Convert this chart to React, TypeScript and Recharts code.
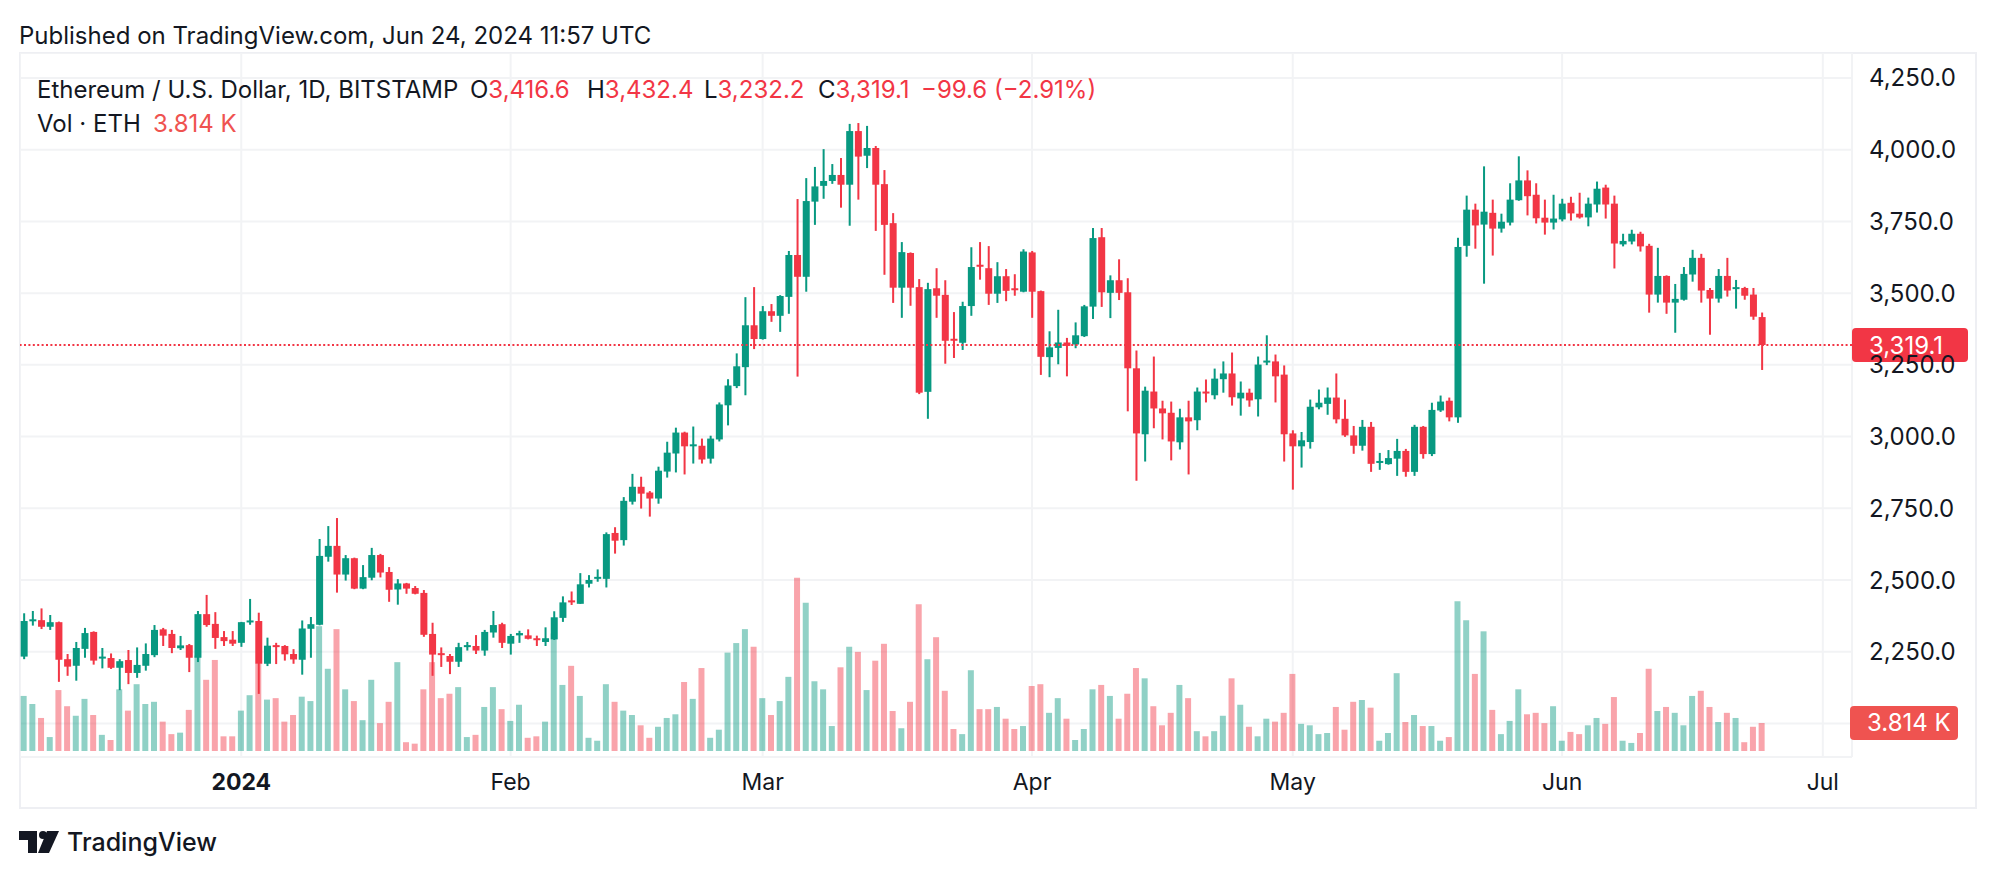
import React from "react";
import {
  ComposedChart,
  Bar,
  Cell,
  XAxis,
  YAxis,
  CartesianGrid,
  ReferenceLine,
} from "recharts";

// ETH/USD daily candles, BITSTAMP, 2023-12-07 .. 2024-06-24 (one entry per day)
const OPEN = [
  // Dec
  2233, 2358, 2360, 2337, 2353, 2224, 2201, 2260, 2319, 2226, 2228, 2194, 2221, 2176, 2201, 2238, 2328, 2312, 2262, 2273, 2229, 2381, 2347, 2301, 2292,
  // Jan
  2281, 2353, 2357, 2208, 2273, 2270, 2242, 2222, 2330, 2344, 2581, 2619, 2519, 2576, 2470, 2508, 2587, 2528, 2467, 2488, 2472, 2455, 2312, 2245, 2235, 2215, 2266, 2270, 2254, 2317, 2346,
  // Feb
  2278, 2307, 2307, 2297, 2284, 2293, 2368, 2429, 2417, 2487, 2505, 2504, 2664, 2639, 2773, 2825, 2805, 2784, 2878, 2941, 3014, 2967, 2968, 2923, 2990, 3109, 3176, 3242, 3388,
  // Mar
  3340, 3437, 3421, 3487, 3633, 3557, 3819, 3874, 3891, 3912, 3878, 4065, 3979, 4006, 3880, 3744, 3519, 3640, 3521, 3156, 3517, 3494, 3341, 3327, 3455, 3599, 3587, 3498, 3559, 3517, 3505,
  // Apr
  3642, 3507, 3277, 3309, 3328, 3321, 3350, 3453, 3695, 3501, 3545, 3503, 3238, 3008, 3157, 3098, 3083, 2980, 3067, 3057, 3157, 3144, 3200, 3220, 3133, 3153, 3130, 3259, 3262, 3216,
  // May
  3011, 2966, 2981, 3102, 3114, 3136, 3062, 3004, 2968, 3034, 2908, 2904, 2923, 2950, 2877, 3034, 2939, 3091, 3125, 3067, 3665, 3791, 3739, 3780, 3725, 3746, 3824, 3893, 3843, 3763, 3746,
  // Jun
  3757, 3815, 3777, 3764, 3809, 3868, 3812, 3670, 3680, 3707, 3665, 3495, 3560, 3467, 3477, 3565, 3623, 3511, 3481, 3560, 3516, 3518, 3495, 3416.6,
];

const HIGH = [
  2384, 2392, 2401, 2378, 2355, 2242, 2284, 2333, 2321, 2263, 2244, 2224, 2256, 2265, 2279, 2343, 2333, 2326, 2305, 2277, 2392, 2448, 2388, 2322, 2322,
  2354, 2434, 2386, 2299, 2281, 2273, 2259, 2359, 2371, 2643, 2688, 2716, 2587, 2578, 2552, 2612, 2591, 2545, 2503, 2490, 2479, 2465, 2351, 2265, 2242, 2281, 2284, 2308, 2326, 2392, 2351,
  2312, 2323, 2328, 2306, 2335, 2391, 2443, 2460, 2524, 2517, 2537, 2666, 2684, 2789, 2870, 2860, 2810, 2895, 2982, 3031, 3017, 3035, 2993, 3003, 3119, 3200, 3290, 3486, 3521,
  3455, 3462, 3493, 3647, 3828, 3901, 3940, 4002, 3950, 3971, 4090, 4093, 4083, 4013, 3929, 3779, 3678, 3642, 3549, 3536, 3587, 3545, 3434, 3470, 3660, 3678, 3664, 3608, 3584, 3566, 3653,
  3647, 3509, 3367, 3442, 3344, 3398, 3459, 3727, 3727, 3562, 3618, 3552, 3300, 3174, 3279, 3125, 3122, 3097, 3125, 3171, 3199, 3237, 3262, 3293, 3192, 3167, 3279, 3353, 3286, 3248,
  3022, 3016, 3129, 3164, 3171, 3220, 3129, 3037, 3058, 3051, 2943, 2953, 2992, 2957, 3041, 3037, 3118, 3143, 3136, 3693, 3840, 3812, 3942, 3826, 3777, 3883, 3977, 3928, 3883, 3826, 3843,
  3829, 3836, 3850, 3833, 3889, 3878, 3840, 3707, 3721, 3714, 3672, 3658, 3562, 3532, 3591, 3651, 3637, 3518, 3584, 3623, 3546, 3522, 3518, 3432.4,
];

const LOW = [
  2224, 2341, 2329, 2326, 2145, 2166, 2149, 2229, 2205, 2192, 2190, 2116, 2137, 2159, 2184, 2231, 2270, 2245, 2256, 2179, 2214, 2337, 2260, 2270, 2270,
  2267, 2344, 2103, 2200, 2207, 2219, 2208, 2170, 2229, 2342, 2564, 2456, 2498, 2468, 2468, 2499, 2509, 2424, 2414, 2452, 2450, 2302, 2166, 2197, 2172, 2197, 2254, 2242, 2236, 2299, 2263,
  2240, 2281, 2293, 2270, 2270, 2291, 2354, 2413, 2417, 2474, 2494, 2474, 2592, 2620, 2763, 2749, 2721, 2766, 2857, 2875, 2868, 2906, 2906, 2906, 2983, 3039, 3169, 3144, 3305,
  3338, 3400, 3365, 3428, 3209, 3505, 3738, 3829, 3881, 3798, 3735, 3826, 3936, 3717, 3564, 3466, 3414, 3456, 3148, 3062, 3414, 3254, 3274, 3302, 3421, 3547, 3459, 3466, 3472, 3491, 3503,
  3414, 3215, 3207, 3252, 3210, 3308, 3347, 3410, 3452, 3413, 3476, 3088, 2846, 2913, 3029, 2990, 2917, 2955, 2868, 3022, 3119, 3130, 3153, 3108, 3073, 3104, 3070, 3249, 3119, 2913,
  2815, 2892, 2958, 3095, 3076, 3046, 2999, 2940, 2951, 2877, 2884, 2902, 2863, 2860, 2863, 2923, 2932, 3086, 3053, 3048, 3627, 3655, 3533, 3631, 3711, 3736, 3822, 3771, 3743, 3704, 3722,
  3750, 3753, 3760, 3733, 3781, 3760, 3586, 3663, 3670, 3645, 3432, 3467, 3428, 3362, 3474, 3540, 3467, 3355, 3467, 3488, 3446, 3477, 3407, 3232.2,
];

const CLOSE = [
  2357, 2363, 2337, 2353, 2222, 2198, 2263, 2315, 2219, 2233, 2194, 2217, 2176, 2204, 2242, 2326, 2306, 2263, 2272, 2229, 2381, 2343, 2298, 2287, 2278,
  2353, 2359, 2208, 2271, 2267, 2241, 2223, 2331, 2346, 2584, 2619, 2519, 2576, 2470, 2510, 2587, 2526, 2466, 2488, 2470, 2452, 2309, 2240, 2240, 2215, 2266, 2273, 2254, 2319, 2343, 2281,
  2305, 2315, 2295, 2291, 2297, 2370, 2422, 2422, 2485, 2500, 2511, 2660, 2637, 2776, 2825, 2801, 2784, 2881, 2944, 3014, 2966, 2973, 2920, 2993, 3112, 3178, 3245, 3388, 3340,
  3437, 3421, 3490, 3633, 3557, 3821, 3872, 3891, 3912, 3878, 4065, 3976, 4006, 3878, 3738, 3519, 3643, 3519, 3153, 3514, 3491, 3334, 3334, 3455, 3591, 3592, 3498, 3559, 3508, 3512, 3645,
  3505, 3278, 3311, 3328, 3316, 3353, 3454, 3692, 3503, 3545, 3501, 3238, 3011, 3160, 3098, 3081, 2983, 3067, 3053, 3157, 3151, 3202, 3220, 3137, 3153, 3126, 3251, 3265, 3210, 3008,
  2966, 2987, 3104, 3118, 3136, 3060, 3004, 2968, 3034, 2905, 2915, 2925, 2950, 2877, 3034, 2939, 3093, 3122, 3067, 3661, 3791, 3736, 3784, 3725, 3749, 3826, 3893, 3838, 3761, 3746, 3760,
  3812, 3778, 3764, 3812, 3864, 3809, 3673, 3682, 3707, 3663, 3495, 3560, 3467, 3480, 3567, 3623, 3509, 3481, 3560, 3509, 3521, 3491, 3418, 3319.1,
];

// volume in thousands of ETH
const VOLUME = [
  7.5, 6.4, 4.5, 1.9, 8.3, 6.1, 4.8, 7.1, 4.9, 2.2, 1.5, 8.4, 5.5, 9.1, 6.4, 6.7, 4.0, 2.3, 2.5, 5.6, 13.0, 9.7, 12.4, 2.0, 2.0,
  5.5, 7.6, 11.9, 7.0, 7.2, 4.0, 4.9, 7.4, 6.8, 17.0, 11.2, 16.6, 8.4, 6.8, 4.2, 9.7, 3.8, 6.7, 12.1, 1.2, 1.0, 8.4, 12.1, 7.2, 7.8, 8.7, 1.9, 2.2, 6.0, 8.7, 5.7,
  4.1, 6.3, 1.8, 2.0, 4.0, 16.0, 9.0, 11.6, 7.5, 1.8, 1.4, 9.1, 6.7, 5.5, 4.9, 3.5, 1.8, 3.3, 4.5, 5.0, 9.4, 7.1, 11.3, 1.8, 2.9, 13.4, 14.7, 16.6, 14.2,
  7.2, 4.9, 6.8, 10.1, 23.6, 20.2, 9.5, 8.4, 3.4, 11.4, 14.2, 13.5, 8.3, 12.3, 14.6, 5.45, 3.1, 6.7, 20.0, 12.5, 15.5, 8.2, 3.0, 2.3, 11.0, 5.7, 5.7, 6.0, 4.4, 3.0, 3.4,
  8.85, 9.1, 5.2, 7.2, 4.4, 1.5, 3.0, 8.4, 9.0, 7.5, 4.4, 7.8, 11.3, 9.9, 6.1, 3.5, 5.2, 9.0, 7.2, 2.7, 2.0, 2.7, 4.8, 9.9, 6.3, 3.3, 2.0, 4.4, 4.0, 5.2,
  10.5, 3.7, 3.5, 2.3, 2.45, 6.0, 2.9, 6.7, 6.95, 5.9, 1.4, 2.45, 10.6, 3.95, 4.9, 3.4, 3.4, 1.4, 1.9, 20.4, 17.8, 10.5, 16.3, 5.6, 2.3, 4.1, 8.4, 5.0, 5.2, 3.8, 6.1,
  1.4, 2.6, 2.3, 3.5, 4.5, 3.7, 7.35, 1.4, 1.1, 2.45, 11.2, 5.45, 6.0, 5.2, 3.5, 7.5, 8.2, 6.0, 3.95, 5.2, 4.5, 1.2, 3.3, 3.814,
];

const PRICE_TICKS = [2000, 2250, 2500, 2750, 3000, 3250, 3500, 3750, 4000, 4250];
// day index (0 = Dec 7) of each month start shown on the time axis
const MONTH_INDEX = [25, 56, 85, 116, 146, 177, 207];
const MONTH_LABELS = ["2024", "Feb", "Mar", "Apr", "May", "Jun", "Jul"];

const LAST_CHANGE = -99.6;
const LAST_PCT = -2.91;

const GREEN = "#089981";
const RED = "#F23645";
const VOL_UP = "rgba(8,153,129,0.45)";
const VOL_DOWN = "rgba(242,54,69,0.45)";
const TEXT = "#131722";
const FONT = "Inter, 'DejaVu Sans', sans-serif";
const AXIS_FS = 24;

const X_DOMAIN = [-0.46, 210.36];
const PRICE_DOMAIN = [1883, 4337.15];
const VOL_DOMAIN = [-0.817, 95.07];

const data = OPEN.map((o, i) => ({
  i,
  o,
  h: HIGH[i],
  l: LOW[i],
  c: CLOSE[i],
  range: [LOW[i], HIGH[i]],
  vol: VOLUME[i],
}));

const last = data[data.length - 1];

const fmt = (v: number) =>
  v.toLocaleString("en-US", { minimumFractionDigits: 1, maximumFractionDigits: 1 });

function Candle(props: any) {
  const { x, y, width, height, payload } = props;
  if (x == null || !payload) return null;
  const color = payload.c >= payload.o ? GREEN : RED;
  const top = Math.min(y, y + height);
  const span = Math.abs(height);
  const k = span / (payload.h - payload.l);
  const bTop = top + (payload.h - Math.max(payload.o, payload.c)) * k;
  const bBot = top + (payload.h - Math.min(payload.o, payload.c)) * k;
  const cx = x + width / 2;
  return (
    <g>
      <rect x={cx - 1} y={top} width={2} height={span} fill={color} />
      <rect x={x} y={bTop} width={width} height={Math.max(bBot - bTop, 2)} fill={color} />
    </g>
  );
}

function PriceTick(props: any) {
  const { x, y, payload } = props;
  if (payload.value === 2000) return <g />;
  return (
    <text x={x + 17} y={y + 8.5} fill={TEXT} fontSize={AXIS_FS} fontFamily={FONT} textAnchor="start">
      {fmt(payload.value)}
    </text>
  );
}

function MonthTick(props: any) {
  const { x, y, payload } = props;
  const k = MONTH_INDEX.indexOf(payload.value);
  const label = MONTH_LABELS[k];
  return (
    <text
      x={x}
      y={y + 33}
      fill={TEXT}
      fontSize={23}
      fontFamily={FONT}
      fontWeight={label === "2024" ? 700 : 400}
      textAnchor="middle"
    >
      {label}
    </text>
  );
}

function AxisBadge(props: any) {
  const { viewBox, text, color, w, shift } = props;
  if (!viewBox) return null;
  const bx = viewBox.x + viewBox.width + (shift || 0);
  return (
    <g>
      <rect x={bx} y={viewBox.y - 17} width={w} height={34} rx={4} fill={color} />
      <text x={bx + 17} y={viewBox.y + 8.5} fill="#ffffff" fontSize={AXIS_FS} fontFamily={FONT}>
        {text}
      </text>
    </g>
  );
}

function Logo() {
  return (
    <svg width={40} height={22} viewBox="0 0 40 22" style={{ position: "absolute", left: 19, top: 831 }}>
      <path d="M0 0 H18 V22 H9 V9 H0 Z" fill={TEXT} />
      <circle cx={24} cy={4} r={4} fill={TEXT} />
      <path d="M28 0 H40 L30 22 H19 Z" fill={TEXT} />
    </svg>
  );
}

export default function App() {
  const red = { color: RED };
  const legend: React.CSSProperties = {
    position: "absolute",
    fontSize: 24,
    lineHeight: "28px",
    whiteSpace: "nowrap",
    color: TEXT,
  };
  return (
    <div
      style={{
        position: "absolute",
        left: 0,
        top: 0,
        width: 1996,
        height: 878,
        background: "#ffffff",
        fontFamily: FONT,
        overflow: "hidden",
      }}
    >
      <div style={{ position: "absolute", left: 19, top: 22, fontSize: 24, lineHeight: "28px", color: TEXT, whiteSpace: "nowrap" }}>
        Published on TradingView.com, Jun 24, 2024 11:57 UTC
      </div>

      <div
        style={{
          position: "absolute",
          left: 19,
          top: 52,
          width: 1958,
          height: 757,
          boxSizing: "border-box",
          border: "2px solid #EEEFF3",
        }}
      />

      <div style={{ position: "absolute", left: 20, top: 53 }}>
        <ComposedChart width={1956} height={755} data={data} margin={{ top: 0, right: 0, bottom: 0, left: 0 }}>
          <XAxis
            xAxisId="x"
            type="number"
            dataKey="i"
            domain={X_DOMAIN}
            allowDataOverflow
            ticks={MONTH_INDEX}
            interval={0}
            height={51}
            axisLine={false}
            tickLine={false}
            tickSize={0}
            tickMargin={0}
            tick={<MonthTick />}
          />
          <XAxis xAxisId="xv" type="number" dataKey="i" domain={X_DOMAIN} allowDataOverflow hide />
          <YAxis
            yAxisId="p"
            orientation="right"
            width={124}
            domain={PRICE_DOMAIN}
            allowDataOverflow
            ticks={PRICE_TICKS}
            interval={0}
            axisLine={false}
            tickLine={false}
            tickSize={0}
            tickMargin={0}
            tick={<PriceTick />}
          />
          <YAxis yAxisId="v" domain={VOL_DOMAIN} allowDataOverflow hide />
          <CartesianGrid xAxisId="x" yAxisId="p" stroke="#F2F3F5" strokeWidth={2} />
          <Bar xAxisId="xv" yAxisId="v" dataKey="vol" barSize={6} isAnimationActive={false}>
            {data.map((d) => (
              <Cell key={d.i} fill={d.c >= d.o ? VOL_UP : VOL_DOWN} />
            ))}
          </Bar>
          <Bar
            xAxisId="x"
            yAxisId="p"
            dataKey="range"
            barSize={7}
            isAnimationActive={false}
            shape={(p: any) => <Candle {...p} />}
          />
          <ReferenceLine
            xAxisId="x"
            yAxisId="p"
            y={last.c}
            stroke={RED}
            strokeWidth={2}
            strokeDasharray="2 2.4"
            label={<AxisBadge text={fmt(last.c)} color={RED} w={116} />}
          />
          <ReferenceLine
            xAxisId="xv"
            yAxisId="v"
            y={last.vol}
            stroke="none"
            label={<AxisBadge text={`${last.vol.toFixed(3)} K`} color="#EF5350" w={108} shift={-2} />}
          />
        </ComposedChart>
      </div>

      <div style={{ ...legend, left: 37, top: 76 }}>Ethereum / U.S. Dollar, 1D, BITSTAMP</div>
      <div style={{ ...legend, left: 470, top: 76 }}>
        O<span style={red}>{fmt(last.o)}</span>
      </div>
      <div style={{ ...legend, left: 587, top: 76 }}>
        H<span style={red}>{fmt(last.h)}</span>
      </div>
      <div style={{ ...legend, left: 704, top: 76 }}>
        L<span style={red}>{fmt(last.l)}</span>
      </div>
      <div style={{ ...legend, left: 818, top: 76 }}>
        C<span style={red}>{fmt(last.c)}</span>
      </div>
      <div style={{ ...legend, left: 921, top: 76, color: RED }}>
        {`\u2212${Math.abs(LAST_CHANGE).toFixed(1)} (\u2212${Math.abs(LAST_PCT).toFixed(2)}%)`}
      </div>
      <div style={{ ...legend, left: 37, top: 110 }}>Vol · ETH</div>
      <div style={{ ...legend, left: 153, top: 110, color: "#EF5350" }}>{`${last.vol.toFixed(3)} K`}</div>

      <Logo />
      <div style={{ position: "absolute", left: 67, top: 827, fontSize: 25, lineHeight: "30px", fontWeight: 500, color: TEXT, whiteSpace: "nowrap" }}>
        TradingView
      </div>
    </div>
  );
}
